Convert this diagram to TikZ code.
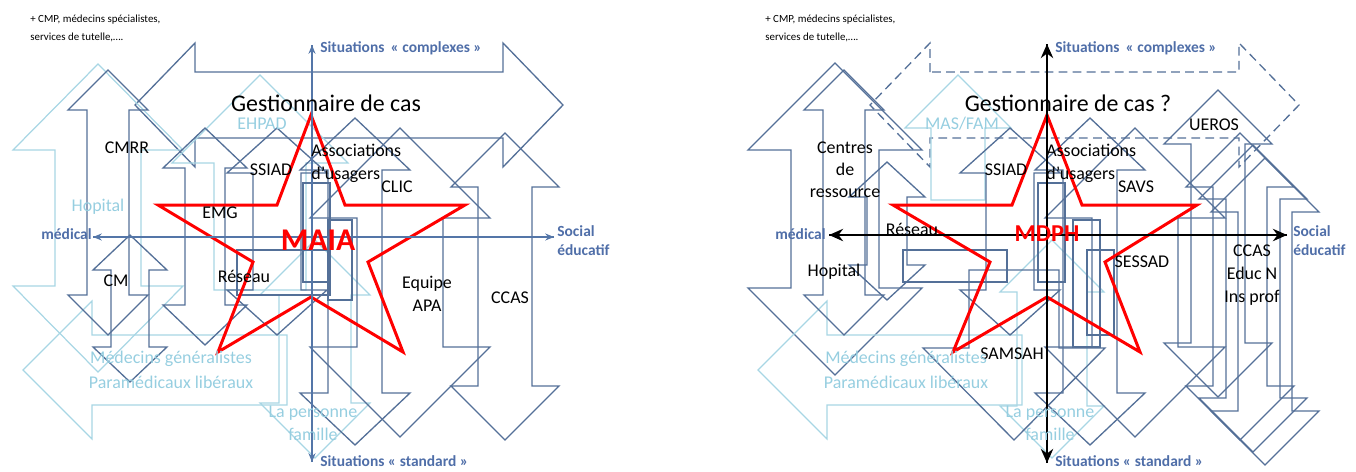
\documentclass[tikz,border=0pt]{standalone}
\usepackage{fontspec}
\setmainfont{Carlito}
\usetikzlibrary{arrows.meta}

\definecolor{arrowblue}{RGB}{84,112,152}
\definecolor{lightblue}{RGB}{168,214,228}
\definecolor{axisblue}{RGB}{84,118,168}
\definecolor{labelblue}{RGB}{79,110,168}
\definecolor{lighttext}{RGB}{150,206,224}

% block arrows, pixel coordinates (y grows downwards)
% vertical double: cx, top tip, bottom tip, head half width, head length, shaft half width
\newcommand{\vdarrow}[7][]{%
  \draw[#1] ({#2-#7},{#3+#6}) -- ({#2-#5},{#3+#6}) -- (#2,#3) -- ({#2+#5},{#3+#6}) -- ({#2+#7},{#3+#6})
    -- ({#2+#7},{#4-#6}) -- ({#2+#5},{#4-#6}) -- (#2,#4) -- ({#2-#5},{#4-#6}) -- ({#2-#7},{#4-#6}) -- cycle;}
% up: cx, tip, bottom end, head half width, head length, shaft half width
\newcommand{\uparr}[7][]{%
  \draw[#1] ({#2-#7},#4) -- ({#2-#7},{#3+#6}) -- ({#2-#5},{#3+#6}) -- (#2,#3) -- ({#2+#5},{#3+#6}) -- ({#2+#7},{#3+#6}) -- ({#2+#7},#4) -- cycle;}
% down: cx, tip, top end, head half width, head length, shaft half width
\newcommand{\dnarr}[7][]{%
  \draw[#1] ({#2-#7},#4) -- ({#2-#7},{#3-#6}) -- ({#2-#5},{#3-#6}) -- (#2,#3) -- ({#2+#5},{#3-#6}) -- ({#2+#7},{#3-#6}) -- ({#2+#7},#4) -- cycle;}
% horizontal double: cy, left tip, right tip, head half width, head length, shaft half width
\newcommand{\hdarrow}[7][]{%
  \draw[#1] ({#3+#6},{#2-#7}) -- ({#3+#6},{#2-#5}) -- (#3,#2) -- ({#3+#6},{#2+#5}) -- ({#3+#6},{#2+#7})
    -- ({#4-#6},{#2+#7}) -- ({#4-#6},{#2+#5}) -- (#4,#2) -- ({#4-#6},{#2-#5}) -- ({#4-#6},{#2-#7}) -- cycle;}
% left: cy, tip, right end, head half width, head length, shaft half width
\newcommand{\lfarr}[7][]{%
  \draw[#1] (#4,{#2-#7}) -- ({#3+#6},{#2-#7}) -- ({#3+#6},{#2-#5}) -- (#3,#2) -- ({#3+#6},{#2+#5}) -- ({#3+#6},{#2+#7}) -- (#4,{#2+#7}) -- cycle;}

\begin{document}
\begin{tikzpicture}[x=0.02cm,y=-0.02cm,
    darr/.style={arrowblue,line width=0.75pt,line join=miter},
    larr/.style={lightblue,line width=0.7pt},
    star/.style={red,line width=1.7pt,line join=miter},
    lbl/.style={inner sep=0pt,font=\fontsize{10.2}{13}\selectfont,align=center},
    lightlbl/.style={lbl,text=lighttext},
    axlbl/.style={inner sep=0pt,text=labelblue,font=\fontsize{8.8}{11}\selectfont\bfseries,align=left},
    note/.style={inner sep=0pt,anchor=west,font=\fontsize{6.2}{8}\selectfont}]
\useasboundingbox (0,0) rectangle (1356,471);

%%% left : MAIA
\hdarrow[darr]{105}{135}{563}{62}{60}{33}
\vdarrow[larr]{98}{64}{372}{85}{86}{43}
\lfarr[larr]{370}{23}{287}{69}{69}{35}
\vdarrow[larr]{315}{240}{458}{55}{55}{36}
\uparr[larr]{260}{75}{290}{88}{88}{46}
\vdarrow[darr]{108}{70}{335}{40}{40}{21}
\vdarrow[darr]{130}{235}{382}{37}{35}{19}
\vdarrow[darr]{205}{128}{345}{42}{40}{20}
\vdarrow[darr]{277}{128}{335}{50}{45}{24}
\vdarrow[darr]{355}{118}{445}{55}{52}{27}
\vdarrow[darr]{400}{128}{437}{90}{90}{43}
\vdarrow[darr]{505}{133}{440}{54}{54}{27}
\draw[darr] (303,183) rectangle (330,282);
\draw[darr] (328,220) rectangle (352,300);
\draw[darr] (237,250) rectangle (330,295);
\draw[star] (311,115) -- (345,205) -- (465,205) -- (368,262) -- (403,352) -- (311,297)
  -- (218,352) -- (253,262) -- (158,205) -- (277,205) -- cycle;

\coordinate (ntopL) at (312,45);
\coordinate (nbotL) at (312,462);
\coordinate (wL) at (93,237);
\coordinate (eL) at (554,237);
\draw[axisblue,line width=0.8pt,-{Stealth[length=5pt,width=4pt]}] (nbotL) -- (ntopL);
\draw[axisblue,line width=0.8pt,-{Stealth[length=5pt,width=4pt]}] (ntopL) -- (nbotL);
\draw[axisblue,line width=0.8pt,-{Stealth[length=5pt,width=4pt]}] (eL) -- (wL);
\draw[axisblue,line width=0.8pt,-{Stealth[length=5pt,width=4pt]}] (wL) -- (eL);

\node[note] (noteL1) at (30,20) {+ CMP, médecins spécialistes,};
\node[note] (noteL2) at (30,37) {services de tutelle,….};
\node[lbl,font=\fontsize{13.6}{16}\selectfont] (gestL) at (326,103) {Gestionnaire de cas};
\node[lightlbl] (ehpad) at (262,124) {EHPAD};
\node[lbl] (cmrr) at (127,148) {CMRR};
\node[lbl] (ssiadL) at (271,170) {SSIAD};
\node[lbl,anchor=west,align=left] (assoL) at (311,163) {Associations\\d'usagers};
\node[lbl] (clic) at (397,187) {CLIC};
\node[lightlbl] (hopL) at (98,207) {Hopital};
\node[lbl] (emg) at (220,213) {EMG};
\node[lbl,text=red,font=\fontsize{18}{20}\selectfont\bfseries] (maia) at (318,240) {MAIA};
\node[lbl] (reseauL) at (244,276) {Réseau};
\node[lbl] (cm) at (116,281) {CM};
\node[lbl] (apa) at (427,294) {Equipe\\APA};
\node[lbl] (ccasL) at (510,298) {CCAS};
\node[lightlbl] (medL) at (171,370) {Médecins généralistes\\[1.5pt]Paramédicaux libéraux};
\node[lightlbl] (persL) at (313,423) {La personne\\famille};
\node[axlbl,anchor=west] (cplxL) at (320,48) {Situations \,« complexes »};
\node[axlbl,anchor=west] (stdL) at (320,461) {Situations « standard »};
\node[axlbl,anchor=east] (medicL) at (92,234) {médical};
\node[axlbl,anchor=north west] (socL) at (557,225) {Social\\éducatif};

%%% right : MDPH
\hdarrow[darr,dashed,dash pattern=on 5pt off 3pt]{105}{870}{1299}{62}{60}{33}
\vdarrow[darr]{835}{63}{375}{87}{87}{44}
\lfarr[larr]{370}{758}{1022}{69}{69}{35}
\vdarrow[larr]{1052}{240}{458}{52}{52}{35}
\uparr[larr]{958}{75}{200}{53}{53}{27}
\vdarrow[darr]{844}{70}{335}{40}{40}{21}
\vdarrow[darr]{887}{162}{300}{38}{35}{20}
\vdarrow[darr]{1010}{128}{335}{50}{45}{24}
\vdarrow[darr]{1090}{118}{445}{55}{52}{27}
\vdarrow[darr]{1135}{128}{437}{90}{90}{43}
\dnarr[darr]{1014}{440}{270}{91}{92}{45}
\vdarrow[darr]{1218}{90}{397}{54}{54}{27}
\vdarrow[darr]{1240}{133}{440}{54}{54}{27}
\vdarrow[darr]{1253}{145}{452}{54}{54}{27}
\vdarrow[darr]{1265}{158}{465}{54}{54}{27}
\draw[darr] (1038,183) rectangle (1065,282);
\draw[darr] (1073,220) rectangle (1100,347);
\draw[darr] (1087,250) rectangle (1114,335);
\draw[darr] (903,250) rectangle (1007,282);
\draw[star] (1047,115) -- (1082,205) -- (1197,205) -- (1105,262) -- (1140,352) -- (1047,297)
  -- (953,352) -- (990,262) -- (893,205) -- (1012,205) -- cycle;

\coordinate (ntopR) at (1047,44);
\coordinate (nbotR) at (1047,463);
\coordinate (wR) at (829,235);
\coordinate (eR) at (1287,235);
\draw[black,line width=1.6pt,-{Stealth[length=8pt,width=7pt]}] (nbotR) -- (ntopR);
\draw[black,line width=1.6pt,-{Stealth[length=8pt,width=7pt]}] (ntopR) -- (nbotR);
\draw[black,line width=1.6pt,-{Stealth[length=8pt,width=7pt]}] (eR) -- (wR);
\draw[black,line width=1.6pt,-{Stealth[length=8pt,width=7pt]}] (wR) -- (eR);

\node[note] (noteR1) at (765,20) {+ CMP, médecins spécialistes,};
\node[note] (noteR2) at (765,37) {services de tutelle,….};
\node[lbl,font=\fontsize{13.6}{16}\selectfont] (gestR) at (1068,103) {Gestionnaire de cas ?};
\node[lightlbl] (masfam) at (962,124) {MAS/FAM};
\node[lbl,font=\fontsize{10.2}{12.6}\selectfont] (centres) at (845,170) {Centres\\de\\ressource};
\node[lbl] (ssiadR) at (1006,170) {SSIAD};
\node[lbl,anchor=west,align=left] (assoR) at (1046,163) {Associations\\d'usagers};
\node[lbl] (savs) at (1136,187) {SAVS};
\node[lbl] (ueros) at (1214,125) {UEROS};
\node[lbl] (reseauR) at (912,229) {Réseau};
\node[lbl,text=red,font=\fontsize{13.8}{16}\selectfont\bfseries] (mdph) at (1047,234) {MDPH};
\node[lbl] (hopR) at (834,272) {Hopital};
\node[lbl] (sessad) at (1142,262) {SESSAD};
\node[lbl,font=\fontsize{10.2}{12.9}\selectfont] (ccasR) at (1252,275) {CCAS\\Educ N\\Ins prof};
\node[lbl] (samsah) at (1012,354) {SAMSAH};
\node[lightlbl] (medR) at (906,370) {Médecins généralistes\\[1.5pt]Paramédicaux libéraux};
\node[lightlbl] (persR) at (1050,423) {La personne\\famille};
\node[axlbl,anchor=west] (cplxR) at (1055,48) {Situations \,« complexes »};
\node[axlbl,anchor=west] (stdR) at (1055,461) {Situations « standard »};
\node[axlbl,anchor=east] (medicR) at (826,234) {médical};
\node[axlbl,anchor=north west] (socR) at (1293,225) {Social\\éducatif};
\end{tikzpicture}
\end{document}
